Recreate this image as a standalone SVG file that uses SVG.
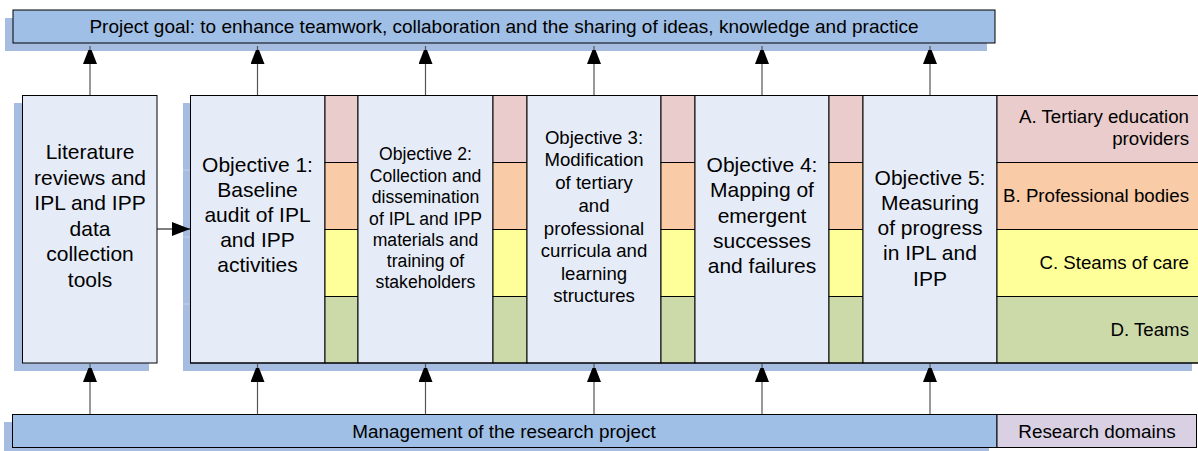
<svg xmlns="http://www.w3.org/2000/svg" width="1198" height="451" viewBox="0 0 1198 451">
<style>
text{font-family:"Liberation Sans",Arial,sans-serif;fill:#000}
.shadow{fill:#A6BCE0}
.bar{fill:#9FBFE6;stroke:#000;stroke-width:1}
.panel{fill:#E6ECF7;stroke:#000;stroke-width:1}
.pk{fill:#EBCCCC;stroke:#000;stroke-width:1}
.or{fill:#F9CBA6;stroke:#000;stroke-width:1}
.ye{fill:#FFFF99;stroke:#000;stroke-width:1}
.gr{fill:#CCDAA9;stroke:#000;stroke-width:1}
.stem{stroke:#555;stroke-width:1.2;fill:none}
.big{font-size:21px;text-anchor:middle}
.leg{font-size:18.7px;text-anchor:end}
</style>
<defs>
<marker id="ah" markerUnits="userSpaceOnUse" markerWidth="14" markerHeight="18" viewBox="0 0 14 18" refX="18" refY="7" orient="auto">
<path d="M0,0 L18,7 L0,14 Z" fill="#000"/>
</marker>
<marker id="ah2" markerUnits="userSpaceOnUse" markerWidth="18" markerHeight="14" viewBox="0 0 18 14" refX="18" refY="7" orient="auto">
<path d="M0,0 L18,7 L0,14 Z" fill="#000"/>
</marker>
</defs>

<g id="goal">
<rect class="shadow" x="5" y="18" width="982" height="33"/>
<rect class="bar" x="13" y="10" width="982" height="33"/>
<text x="504" y="33" font-size="19" text-anchor="middle">Project goal: to enhance teamwork, collaboration and the sharing of ideas, knowledge and practice</text>
</g>

<g id="literature">
<rect class="shadow" x="14" y="103" width="135" height="268"/>
<rect class="panel" x="22.5" y="95.5" width="134.5" height="267.5"/>
<text class="big"><tspan x="90" y="159">Literature</tspan><tspan x="90" y="184.5">reviews and</tspan><tspan x="90" y="210">IPL and IPP</tspan><tspan x="90" y="235.5">data</tspan><tspan x="90" y="261">collection</tspan><tspan x="90" y="286.5">tools</tspan></text>
</g>

<g id="main-shadow">
<rect class="shadow" x="183" y="103" width="1009" height="268"/>
<g stroke="#C3D2EC" stroke-width="1"><line x1="183" y1="170" x2="190" y2="170"/><line x1="183" y1="237" x2="190" y2="237"/><line x1="183" y1="304" x2="190" y2="304"/></g>
</g>

<g id="objective1">
<rect class="panel" x="190.5" y="95.5" width="134.5" height="267.5"/>
<text class="big"><tspan x="257.5" y="172">Objective 1:</tspan><tspan x="257.5" y="197">Baseline</tspan><tspan x="257.5" y="222">audit of IPL</tspan><tspan x="257.5" y="247">and IPP</tspan><tspan x="257.5" y="272">activities</tspan></text>
</g>
<g id="strip1">
<rect class="pk" x="325" y="95.5" width="33" height="67"/><rect class="or" x="325" y="162.5" width="33" height="67"/><rect class="ye" x="325" y="229.5" width="33" height="67"/><rect class="gr" x="325" y="296.5" width="33" height="66.5"/>
</g>

<g id="objective2">
<rect class="panel" x="358" y="95.5" width="135" height="267.5"/>
<text font-size="17.6" text-anchor="middle"><tspan x="425.5" y="160">Objective 2:</tspan><tspan x="425.5" y="181.5">Collection and</tspan><tspan x="425.5" y="203">dissemination</tspan><tspan x="425.5" y="224.5">of IPL and IPP</tspan><tspan x="425.5" y="246">materials and</tspan><tspan x="425.5" y="267">training of</tspan><tspan x="425.5" y="288">stakeholders</tspan></text>
</g>
<g id="strip2">
<rect class="pk" x="493" y="95.5" width="34" height="67"/><rect class="or" x="493" y="162.5" width="34" height="67"/><rect class="ye" x="493" y="229.5" width="34" height="67"/><rect class="gr" x="493" y="296.5" width="34" height="66.5"/>
</g>

<g id="objective3">
<rect class="panel" x="527" y="95.5" width="134" height="267.5"/>
<text font-size="18.6" text-anchor="middle"><tspan x="594" y="143.5">Objective 3:</tspan><tspan x="594" y="166">Modification</tspan><tspan x="594" y="189">of tertiary</tspan><tspan x="594" y="211.5">and</tspan><tspan x="594" y="234.5">professional</tspan><tspan x="594" y="257">curricula and</tspan><tspan x="594" y="280">learning</tspan><tspan x="594" y="302">structures</tspan></text>
</g>
<g id="strip3">
<rect class="pk" x="661" y="95.5" width="34" height="67"/><rect class="or" x="661" y="162.5" width="34" height="67"/><rect class="ye" x="661" y="229.5" width="34" height="67"/><rect class="gr" x="661" y="296.5" width="34" height="66.5"/>
</g>

<g id="objective4">
<rect class="panel" x="695" y="95.5" width="134" height="267.5"/>
<text class="big"><tspan x="762" y="172">Objective 4:</tspan><tspan x="762" y="197">Mapping of</tspan><tspan x="762" y="222.5">emergent</tspan><tspan x="762" y="248">successes</tspan><tspan x="762" y="273">and failures</tspan></text>
</g>
<g id="strip4">
<rect class="pk" x="829" y="95.5" width="34" height="67"/><rect class="or" x="829" y="162.5" width="34" height="67"/><rect class="ye" x="829" y="229.5" width="34" height="67"/><rect class="gr" x="829" y="296.5" width="34" height="66.5"/>
</g>

<g id="objective5">
<rect class="panel" x="863" y="95.5" width="134" height="267.5"/>
<text class="big"><tspan x="930" y="184.5">Objective 5:</tspan><tspan x="930" y="210">Measuring</tspan><tspan x="930" y="235">of progress</tspan><tspan x="930" y="260">in IPL and</tspan><tspan x="930" y="285.5">IPP</tspan></text>
</g>

<g id="legend">
<rect class="pk" x="997" y="95.5" width="202" height="67"/>
<rect class="or" x="997" y="162.5" width="202" height="67"/>
<rect class="ye" x="997" y="229.5" width="202" height="67"/>
<rect class="gr" x="997" y="296.5" width="202" height="66.5"/>
<text class="leg"><tspan x="1189" y="123">A. Tertiary education</tspan><tspan x="1189" y="145">providers</tspan></text>
<text class="leg" x="1189" y="201.5">B. Professional bodies</text>
<text class="leg" x="1189" y="269">C. Steams of care</text>
<text class="leg" x="1189" y="335.5">D. Teams</text>
</g>
<rect x="190.5" y="95.5" width="1010" height="267.5" fill="none" stroke="#000" stroke-width="1"/>

<g id="management">
<rect class="shadow" x="4" y="422" width="985" height="33"/>
<rect class="bar" x="12.5" y="414.5" width="984.5" height="33"/>
<text x="504" y="437.5" font-size="18.9" text-anchor="middle">Management of the research project</text>
</g>

<g id="research-domains">
<rect x="997" y="414.5" width="199.5" height="33" fill="#D9D0E3" stroke="#000" stroke-width="1"/>
<text x="1097" y="437.5" font-size="18.9" text-anchor="middle">Research domains</text>
</g>

<g id="connectors">
<line class="stem" x1="90" y1="95" x2="90" y2="46" marker-end="url(#ah)"/>
<line class="stem" x1="257.5" y1="95" x2="257.5" y2="46" marker-end="url(#ah)"/>
<line class="stem" x1="425.5" y1="95" x2="425.5" y2="46" marker-end="url(#ah)"/>
<line class="stem" x1="594" y1="95" x2="594" y2="46" marker-end="url(#ah)"/>
<line class="stem" x1="762" y1="95" x2="762" y2="46" marker-end="url(#ah)"/>
<line class="stem" x1="930" y1="95" x2="930" y2="46" marker-end="url(#ah)"/>
<line class="stem" x1="90" y1="414" x2="90" y2="364" marker-end="url(#ah)"/>
<line class="stem" x1="257.5" y1="414" x2="257.5" y2="364" marker-end="url(#ah)"/>
<line class="stem" x1="425.5" y1="414" x2="425.5" y2="364" marker-end="url(#ah)"/>
<line class="stem" x1="594" y1="414" x2="594" y2="364" marker-end="url(#ah)"/>
<line class="stem" x1="762" y1="414" x2="762" y2="364" marker-end="url(#ah)"/>
<line class="stem" x1="930" y1="414" x2="930" y2="364" marker-end="url(#ah)"/>
<line x1="157" y1="229" x2="190" y2="229" stroke="#000" stroke-width="1.2" marker-end="url(#ah2)"/>
</g>
</svg>
